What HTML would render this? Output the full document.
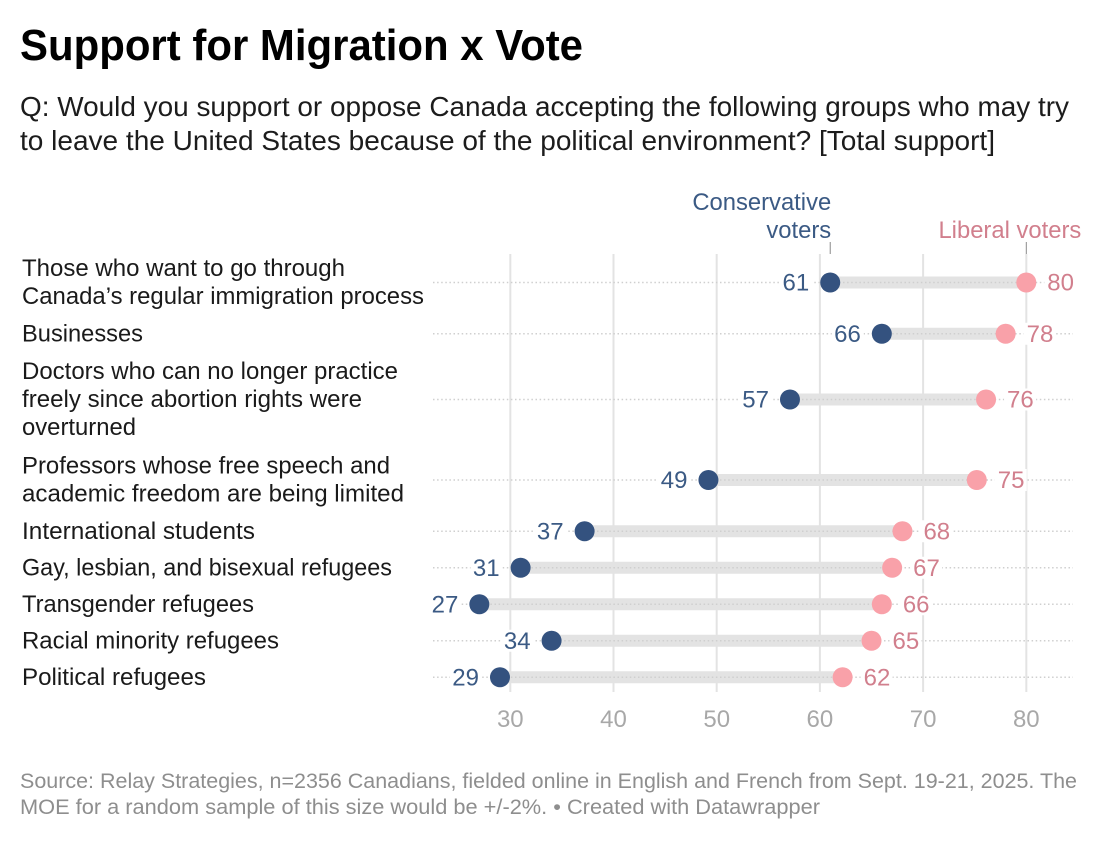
<!DOCTYPE html>
<html lang="en">
<head>
<meta charset="utf-8">
<title>Support for Migration x Vote</title>
<style>
  html, body { margin: 0; padding: 0; background: #fff; }
  svg { display: block; font-family: "Liberation Sans", Arial, sans-serif; }
</style>
</head>
<body>
<svg id="chart" xmlns="http://www.w3.org/2000/svg" width="1116" height="842" viewBox="0 0 1116 842">
  <rect x="0" y="0" width="1116" height="842" fill="#ffffff"/>
  <text x="20" y="60" font-size="44" font-weight="700" fill="#000" textLength="563" lengthAdjust="spacingAndGlyphs">Support for Migration x Vote</text>
  <text x="20" y="116" font-size="27.5" fill="#1c1c1c" textLength="1049" lengthAdjust="spacingAndGlyphs">Q: Would you support or oppose Canada accepting the following groups who may try</text>
  <text x="20" y="150" font-size="27.5" fill="#1c1c1c" textLength="975" lengthAdjust="spacingAndGlyphs">to leave the United States because of the political environment? [Total support]</text>
  <g id="grid"></g>
  <g id="rows"></g>
  <g id="ticks"></g>
  <g id="legend"></g>
  <text x="20" y="788" font-size="21.5" fill="#8e8e8e" textLength="1057" lengthAdjust="spacingAndGlyphs">Source: Relay Strategies, n=2356 Canadians, fielded online in English and French from Sept. 19-21, 2025. The</text>
  <text x="20" y="814" font-size="21.5" fill="#8e8e8e" textLength="800" lengthAdjust="spacingAndGlyphs">MOE for a random sample of this size would be +/-2%. • Created with Datawrapper</text>
</svg>
<script>
// Chart data
const categories = [
  ["Those who want to go through", "Canada’s regular immigration process"],
  ["Businesses"],
  ["Doctors who can no longer practice", "freely since abortion rights were", "overturned"],
  ["Professors whose free speech and", "academic freedom are being limited"],
  ["International students"],
  ["Gay, lesbian, and bisexual refugees"],
  ["Transgender refugees"],
  ["Racial minority refugees"],
  ["Political refugees"]
];
const conservativeValues = [61, 66, 57.1, 49.2, 37.2, 31, 27, 34, 29];
const liberalValues = [80, 78, 76.1, 75.2, 68, 67, 66, 65, 62.2];
const xTicks = [30, 40, 50, 60, 70, 80];

// Layout
const NS = "http://www.w3.org/2000/svg";
const xScale = v => 510.3 + (v - 30) * 10.32;
const rowHeight = n => n === 1 ? 36.5 : n === 2 ? 66 : 95;
const LINE_H = 28;
const FIRST_CENTER = 282.5;
const GRID_TOP = 254, GRID_BOTTOM = 692;
const BLUE_DOT = "#34527f", BLUE_TEXT = "#3b5a84", PINK_DOT = "#f9a1a9", PINK_TEXT = "#d17f8d";
const FONT = 24.5;
const VALUE_FONT = 24;
// Rendered widths of the wrapped category lines (type metrics, not data)
const labelLineWidth = {
  "Those who want to go through": 323,
  "Canada’s regular immigration process": 402,
  "Businesses": 121,
  "Doctors who can no longer practice": 376,
  "freely since abortion rights were": 340,
  "overturned": 114,
  "Professors whose free speech and": 368,
  "academic freedom are being limited": 382,
  "International students": 233,
  "Gay, lesbian, and bisexual refugees": 370,
  "Transgender refugees": 232,
  "Racial minority refugees": 257,
  "Political refugees": 184
};

function make(tag, parent) {
  const el = document.createElementNS(NS, tag);
  parent.appendChild(el);
  return el;
}
function setAll(el, pairs) {
  for (const k in pairs) el.setAttribute(k, pairs[k]);
}

// Gridlines and tick labels
const grid = document.getElementById("grid");
const ticks = document.getElementById("ticks");
xTicks.forEach(t => {
  const line = make("line", grid);
  
  
  setAll(line, { x1: xScale(t), x2: xScale(t), y1: GRID_TOP, y2: GRID_BOTTOM, stroke: "#e3e3e3", "stroke-width": 2 });
  const label = make("text", ticks);
  
  
  setAll(label, { x: xScale(t), y: 727, "text-anchor": "middle", "font-size": VALUE_FONT, fill: "#a8a8a8" });
  label.textContent = t;
});

// Rows
const rows = document.getElementById("rows");
let center = FIRST_CENTER;
categories.forEach((lines, i) => {
  if (i > 0) center += (rowHeight(categories[i - 1].length) + rowHeight(lines.length)) / 2;
  const g = make("g", rows);
  
  

  lines.forEach((txt, j) => {
    const t = make("text", g);
    
    
    setAll(t, { x: 22, y: center - (lines.length - 1) * LINE_H / 2 + j * LINE_H + 7.5, "font-size": FONT, fill: "#1a1a1a", textLength: labelLineWidth[txt], lengthAdjust: "spacingAndGlyphs" });
    t.textContent = txt;
  });

  const cons = conservativeValues[i], lib = liberalValues[i];

  const band = make("line", g);
  
  
  setAll(band, { x1: xScale(cons), x2: xScale(lib), y1: center, y2: center, stroke: "#e3e3e3", "stroke-width": 12 });

  const dots = make("line", g);
  
  
  setAll(dots, { x1: 433, x2: 1073, y1: center, y2: center, stroke: "#cfcfcf", "stroke-width": 1.5, "stroke-dasharray": "1.5 2.6" });

  // Knock out the dotted line behind the value labels
  const consBg = make("rect", g);
  
  
  setAll(consBg, { x: xScale(cons) - 50, y: center - 11, width: 32, height: 22, fill: "#fff" });
  const libBg = make("rect", g);
  
  
  setAll(libBg, { x: xScale(lib) + 18, y: center - 11, width: 32, height: 22, fill: "#fff" });

  const c1 = make("circle", g);
  
  
  setAll(c1, { cx: xScale(cons), cy: center, r: 10, fill: BLUE_DOT });

  const c2 = make("circle", g);
  
  
  setAll(c2, { cx: xScale(lib), cy: center, r: 10, fill: PINK_DOT });

  const t1 = make("text", g);
  
  
  setAll(t1, { x: xScale(cons) - 21, y: center + 8, "text-anchor": "end", "font-size": VALUE_FONT, fill: BLUE_TEXT });
  t1.textContent = Math.round(cons);

  const t2 = make("text", g);
  
  
  setAll(t2, { x: xScale(lib) + 21, y: center + 8, "font-size": VALUE_FONT, fill: PINK_TEXT });
  t2.textContent = Math.round(lib);
});

// Series labels with leader ticks, anchored to the first row's values
const legend = document.getElementById("legend");
const consX = xScale(conservativeValues[0]);
const libX = xScale(liberalValues[0]);

const consTick = make("line", legend);


setAll(consTick, { x1: consX, x2: consX, y1: 242, y2: 254, stroke: "#8a8a8a", "stroke-width": 1 });

const libTick = make("line", legend);


setAll(libTick, { x1: libX, x2: libX, y1: 242, y2: 254, stroke: "#8a8a8a", "stroke-width": 1 });

const consL1 = make("text", legend);


setAll(consL1, { x: consX + 1, y: 210, "text-anchor": "end", "font-size": 23.8, fill: BLUE_TEXT });
consL1.textContent = "Conservative";

const consL2 = make("text", legend);


setAll(consL2, { x: consX + 1, y: 238, "text-anchor": "end", "font-size": 23.8, fill: BLUE_TEXT });
consL2.textContent = "voters";

const libL = make("text", legend);


setAll(libL, { x: libX + 55, y: 238, "text-anchor": "end", "font-size": 23.8, fill: PINK_TEXT });
libL.textContent = "Liberal voters";
</script>
</body>
</html>
